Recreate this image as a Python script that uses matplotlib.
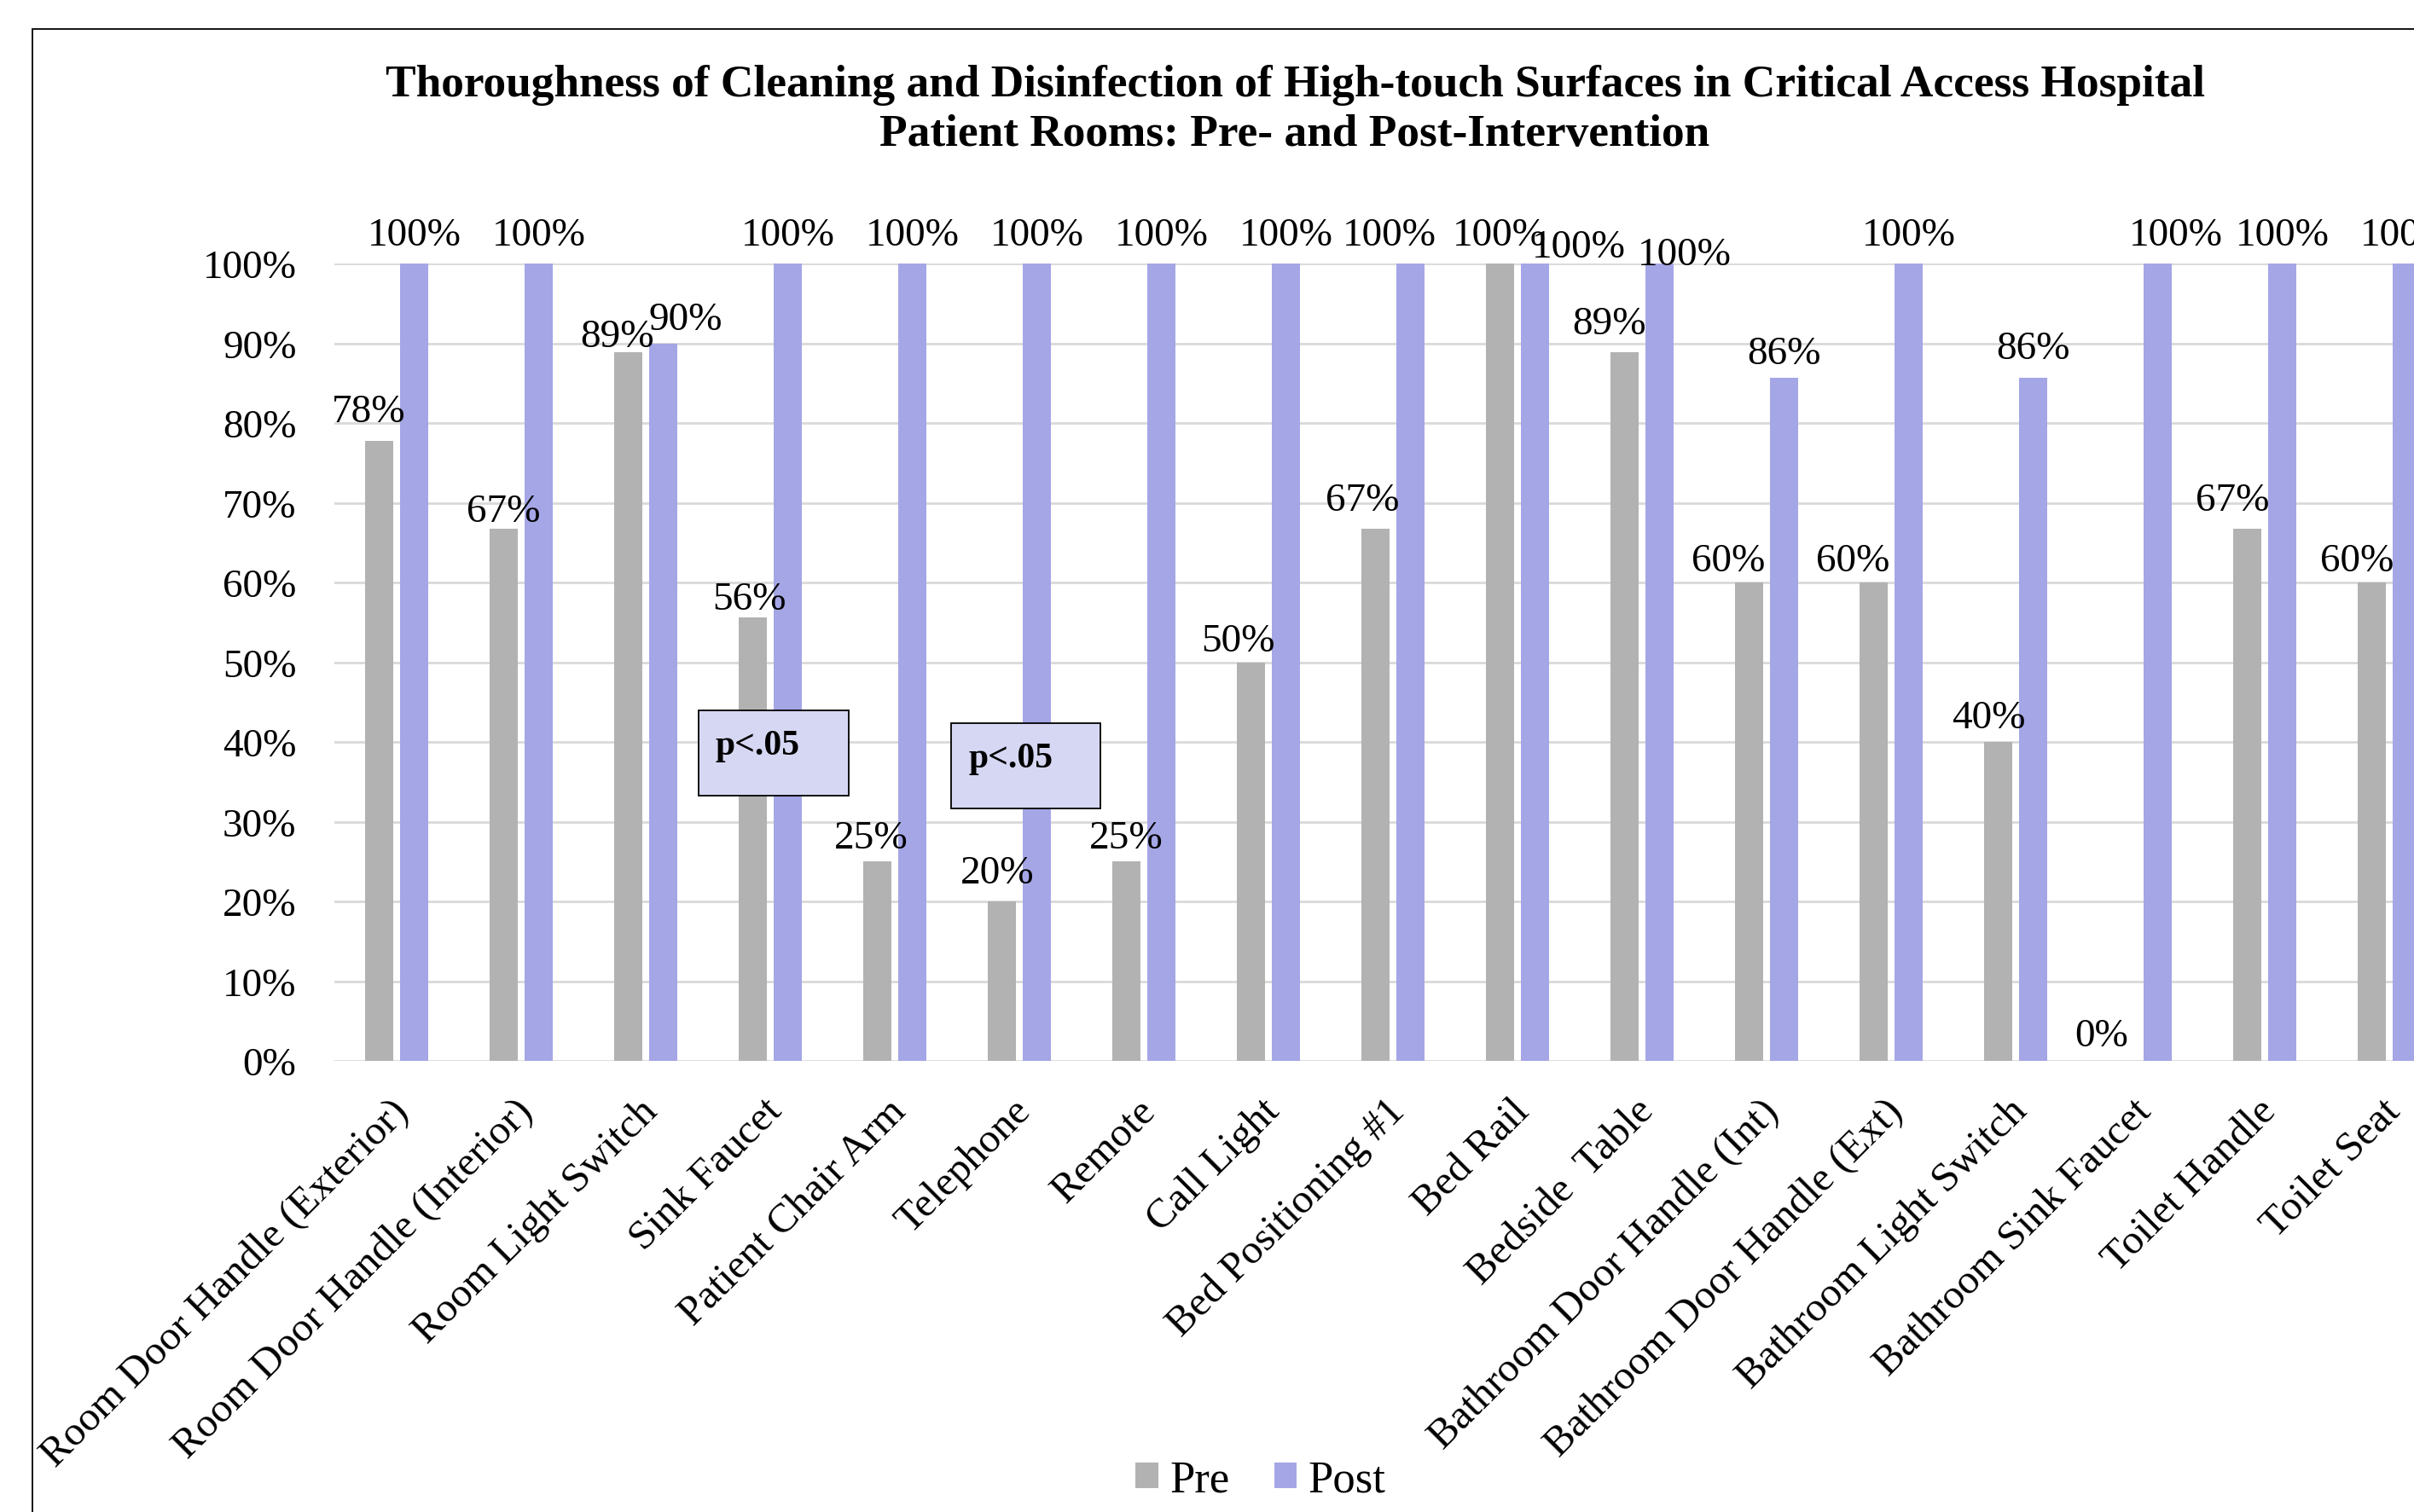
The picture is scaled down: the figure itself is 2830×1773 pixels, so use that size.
import matplotlib
matplotlib.use("Agg")
import matplotlib.pyplot as plt
import matplotlib.transforms as mtransforms
import numpy as np
from matplotlib.patches import Rectangle
from matplotlib.ticker import PercentFormatter

plt.rcParams["font.family"] = ["Liberation Serif", "DejaVu Serif"]

SURFACES = [
    "Room Door Handle (Exterior)", "Room Door Handle (Interior)", "Room Light Switch",
    "Sink Faucet", "Patient Chair Arm", "Telephone", "Remote", "Call Light",
    "Bed Positioning #1", "Bed Rail", "Bedside  Table", "Bathroom Door Handle (Int)",
    "Bathroom Door Handle (Ext)", "Bathroom Light Switch", "Bathroom Sink Faucet",
    "Toilet Handle", "Toilet Seat",
]
PRE = [0.778, 0.667, 0.889, 0.556, 0.25, 0.20, 0.25, 0.50, 0.667, 1.00,
       0.889, 0.60, 0.60, 0.40, 0.00, 0.667, 0.60]
POST = [1.00, 1.00, 0.90, 1.00, 1.00, 1.00, 1.00, 1.00, 1.00, 1.00,
        1.00, 0.857, 1.00, 0.857, 1.00, 1.00, 1.00]
SERIES = ["Pre", "Post"]

PRE_COLOR = "#B2B2B2"
POST_COLOR = "#A5A6E6"

# hand-placed data labels in the original (offsets in points)
PRE_NUDGE = {0: (-9, 0), 1: (0, -9), 2: (-9, -11), 3: (-3, -9), 4: (-5, -4), 5: (-4, 0),
             6: (0, -4), 7: (-11, -6), 8: (-11, 0), 10: (-13, 0), 11: (-17, -6),
             12: (-17, -6), 13: (-8, -4), 14: (-18, -3), 15: (-12, 0), 16: (-12, -6)}
POST_NUDGE = {2: (19, -4), 8: (-18, 0), 9: (37, -10), 10: (21, -17), 11: (0, -4),
              14: (15, 0)}

W, H = 2830, 1774
fig = plt.figure(figsize=(W / 100, H / 100), dpi=100)
ax = fig.add_axes([392 / W, 529 / H, 2482 / W, 935 / H])

x = np.arange(len(SURFACES))
off, bw = 0.142, 0.225
ax.bar(x - off, PRE, bw, color=PRE_COLOR, label=SERIES[0], zorder=3)
ax.bar(x + off, POST, bw, color=POST_COLOR, label=SERIES[1], zorder=3)

for vals, shift, nudge in [(PRE, -off, PRE_NUDGE), (POST, off, POST_NUDGE)]:
    for i, v in enumerate(vals):
        dx, dy = nudge.get(i, (0, 0))
        ax.annotate(f"{v:.0%}", (i + shift, v), xytext=(dx, 16 + dy),
                    textcoords="offset points", ha="center", va="baseline",
                    fontsize=34, annotation_clip=False, zorder=4)

ax.set_xlim(-0.5, len(SURFACES) - 0.5)
ax.set_ylim(0, 1)
ax.set_yticks(np.arange(0, 1.01, 0.1))
ax.yaxis.set_major_formatter(PercentFormatter(1.0, decimals=0))
ax.yaxis.grid(True, color="#D9D9D9", linewidth=2)
ax.set_axisbelow(True)
for s in ax.spines.values():
    s.set_visible(False)
ax.tick_params(axis="y", length=0, pad=32, labelsize=34)
ax.set_xticks(x)
ax.set_xticklabels(SURFACES, rotation=45, ha="right", rotation_mode="anchor", fontsize=35)
ax.tick_params(axis="x", length=0, pad=26)
shift_left = mtransforms.ScaledTranslation(-0.09, 0, fig.dpi_scale_trans)
for lbl in ax.get_xticklabels():
    lbl.set_transform(lbl.get_transform() + shift_left)

# significance boxes
for (x0, x1, y0, y1, tx, ty) in [(2.425, 3.63, 0.333, 0.44, 2.56, 0.385),
                                  (4.45, 5.65, 0.317, 0.4235, 4.59, 0.369)]:
    ax.add_patch(Rectangle((x0, y0), x1 - x0, y1 - y0, facecolor="#D6D7F3",
                           edgecolor="black", linewidth=1.3, zorder=5))
    ax.text(tx, ty, "p<.05", fontsize=30, fontweight="bold", va="baseline", zorder=6)

fig.text(1518 / W, 1 - 113 / H,
         "Thoroughness of Cleaning and Disinfection of High-touch Surfaces in Critical Access Hospital",
         ha="center", va="baseline", fontsize=38.4, fontweight="bold")
fig.text(1518 / W, 1 - 171 / H, "Patient Rooms: Pre- and Post-Intervention",
         ha="center", va="baseline", fontsize=38.4, fontweight="bold")

fig.legend(loc="center", bbox_to_anchor=(1478 / W, 1 - 1737 / H), ncol=2, frameon=False,
           fontsize=38, handlelength=0.5, handleheight=0.5, handletextpad=0.25,
           columnspacing=1.0)

# chart frame (clipped on right and bottom in the original)
fig.patches.append(Rectangle((38 / W, -0.5), 2, 1.5 - 35 / H, transform=fig.transFigure,
                             fill=False, edgecolor="black", linewidth=1.3))

fig.savefig("out.png", dpi=100)
